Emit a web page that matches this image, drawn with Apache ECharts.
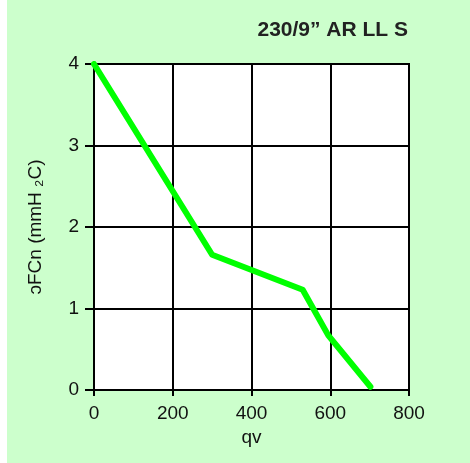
<!DOCTYPE html>
<html><head><meta charset="utf-8">
<script src="https://cdn.jsdelivr.net/npm/echarts@6/dist/echarts.min.js"></script>
<style>html,body{margin:0;padding:0;background:#fff}#c{position:absolute;left:7px;top:0;width:463px;height:463px}</style>
</head><body><div id="c"></div>
<script>
const titleText = '230/9\u201D AR LL S';
const xName = 'qv';
const yName = '\u0254FCn (mmH \u2082C)';
const xValues = [0, 300, 530, 595, 702];
const yValues = [4.0, 1.66, 1.23, 0.67, 0.04];
const chart = echarts.init(document.getElementById('c'));
const font = 'Liberation Sans, Arial, sans-serif';
chart.setOption({
  backgroundColor: '#ccffcc',
  animation: false,
  title: {text: titleText, right: 57, top: 15, textStyle: {fontFamily: font, fontWeight: 'bold', fontSize: 21, color: '#222'}},
  grid: {left: 87, right: 61, top: 64, bottom: 73, show: true, backgroundColor: '#fff', borderColor: '#000', borderWidth: 2},
  xAxis: {type: 'value', min: 0, max: 800, interval: 200, name: xName, nameLocation: 'middle', nameGap: 37,
    nameTextStyle: {fontFamily: font, fontSize: 19, color: '#111', verticalAlign: 'top'},
    axisLine: {show: true, lineStyle: {color: '#000', width: 2}},
    axisTick: {show: true, length: 6, lineStyle: {color: '#000', width: 2}},
    axisLabel: {fontFamily: font, fontSize: 19, color: '#111', margin: 14},
    splitLine: {show: true, lineStyle: {color: '#000', width: 2}}},
  yAxis: {type: 'value', min: 0, max: 4, interval: 1, name: yName, nameLocation: 'middle', nameGap: 49,
    nameTextStyle: {fontFamily: font, fontSize: 19, color: '#111'},
    axisLine: {show: true, lineStyle: {color: '#000', width: 2}},
    axisTick: {show: true, length: 9, lineStyle: {color: '#000', width: 2}},
    axisLabel: {fontFamily: font, fontSize: 19, color: '#111', margin: 15},
    splitLine: {show: true, lineStyle: {color: '#000', width: 2}}},
  series: [{type: 'line', data: xValues.map((x, i) => [x, yValues[i]]), showSymbol: false,
    lineStyle: {color: '#00ff00', width: 6, cap: 'round', join: 'round'}}]
});
</script></body></html>
